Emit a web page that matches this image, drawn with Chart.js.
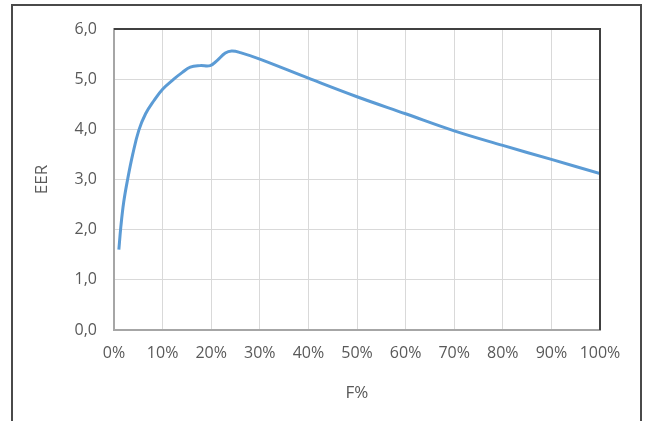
<!DOCTYPE html>
<html>
<head>
<meta charset="utf-8">
<script src="https://cdn.jsdelivr.net/npm/chart.js@4/dist/chart.umd.min.js"></script>
<style>
  html, body { margin: 0; padding: 0; background: #ffffff; }
  #wrap { position: relative; width: 646px; height: 421px; overflow: hidden; }
  #frame { position: absolute; left: 11px; top: 4px; width: 631px; height: 440px; border: 2px solid #4a4a4a; box-sizing: border-box; }
  canvas { position: absolute; left: 0; top: 0; }
</style>
</head>
<body>
<div id="wrap">
  <div id="frame"></div>
  <canvas id="c" width="646" height="421"></canvas>
</div>
<script>
const fPercent = [1.0, 1.4, 2.0, 2.8, 3.85, 5.1, 6.5, 8.2, 10.0, 12.3, 14.0, 15.7, 17.7, 19.8, 21.2, 22.9, 24.2, 26, 30, 40, 50, 60, 70, 80, 90, 100];
const eer      = [1.60, 2.05, 2.55, 3.00, 3.50, 3.98, 4.31, 4.57, 4.80, 5.00, 5.13, 5.24, 5.27, 5.27, 5.37, 5.52, 5.56, 5.53, 5.40, 5.02, 4.65, 4.31, 3.97, 3.68, 3.40, 3.12];
const xTickLabels = ['0%', '10%', '20%', '30%', '40%', '50%', '60%', '70%', '80%', '90%', '100%'];
const yTickLabels = ['0,0', '1,0', '2,0', '3,0', '4,0', '5,0', '6,0'];
const xTitle = 'F%';
const yTitle = 'EER';

const points = fPercent.map((f, i) => ({ x: f, y: eer[i] }));

const plotFrame = {
  id: 'plotFrame',
  afterDatasetsDraw(chart) {
    const { ctx, chartArea: a } = chart;
    ctx.save();
    ctx.lineWidth = 2;
    ctx.strokeStyle = '#404040';
    ctx.beginPath();
    ctx.moveTo(a.left, a.top);
    ctx.lineTo(a.right, a.top);
    ctx.lineTo(a.right, a.bottom);
    ctx.stroke();
    ctx.restore();
  }
};

new Chart(document.getElementById('c'), {
  type: 'line',
  data: {
    datasets: [{
      data: points,
      borderColor: '#5B9BD5',
      borderWidth: 3,
      pointRadius: 0,
      fill: false,
      tension: 0.4
    }]
  },
  options: {
    responsive: false,
    animation: false,
    devicePixelRatio: 1,
    layout: { padding: { left: 0, top: 29, right: 46, bottom: 0 } },
    plugins: { legend: { display: false }, tooltip: { enabled: false } },
    scales: {
      x: {
        type: 'linear',
        min: 0, max: 100,
        afterFit: s => { s.height = 91; },
        ticks: {
          stepSize: 10,
          padding: 14,
          color: '#595959',
          font: { family: 'Open Sans', size: 16 },
          maxRotation: 0,
          callback: (v) => xTickLabels[Math.round(v / 10)]
        },
        grid: { color: '#d9d9d9', lineWidth: 1, drawTicks: false },
        border: { color: '#a6a6a6', width: 2 },
        title: {
          display: true, text: xTitle, color: '#595959',
          font: { family: 'Open Sans', size: 17 },
          padding: { top: 0, bottom: 18 }
        }
      },
      y: {
        min: 0, max: 6,
        afterFit: s => { s.width = 114; },
        ticks: {
          stepSize: 1,
          padding: 17,
          color: '#595959',
          font: { family: 'Open Sans', size: 16 },
          callback: (v) => yTickLabels[Math.round(v)]
        },
        grid: { color: '#d9d9d9', lineWidth: 1, drawTicks: false },
        border: { color: '#a6a6a6', width: 2 },
        title: {
          display: true, text: yTitle, color: '#595959',
          font: { family: 'Open Sans', size: 17 },
          padding: { top: 32, bottom: 0 }
        }
      }
    }
  },
  plugins: [plotFrame]
});
</script>
</body>
</html>
